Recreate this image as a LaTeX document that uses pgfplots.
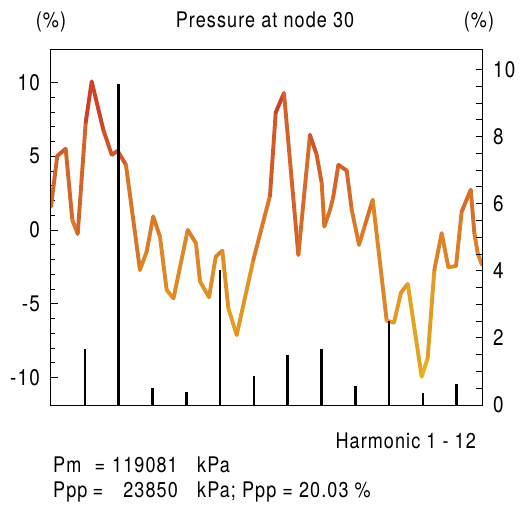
\documentclass[border=0pt]{standalone}
\usepackage{fontspec}
\setmainfont{TeX Gyre Heros}[FakeStretch=0.84,LetterSpace=5]
\usepackage{pgfplots}
\pgfplotsset{compat=1.18}

\pgfplotsset{
  colormap={heatline}{rgb255=(233,182,30) rgb255=(226,152,36) rgb255=(219,122,40) rgb255=(211,90,40) rgb255=(202,56,38)},
  common/.style={
    at={(51pt,99pt)}, anchor=south west,
    width=431pt, height=355pt, scale only axis,
    tick align=inside,
    axis line style={line width=1pt},
    tick style={black, line width=0.9pt},
    /pgf/number format/assume math mode=true,
    tick label style={font=\fontsize{22.5}{26}\selectfont},
  },
}

\begin{document}
\begin{tikzpicture}
\path (0pt,0pt) rectangle (521pt,504pt);

% pressure variation, left scale
\begin{axis}[common,
    xmin=0, xmax=360, ymin=-11.85, ymax=12.2,
    xtick=\empty,
    ytick={-10,-5,0,5,10}, minor y tick num=4,
    ytick pos=left,
    major tick length=7pt, minor tick length=4pt,
    yticklabel style={inner sep=0pt, xshift=-11pt},
    colormap name=heatline, point meta min=-10, point meta max=10,
]
\addplot[mesh, point meta=y, line width=3.9pt, line cap=round, line join=round] coordinates {
(0,1.59) (5.26,5.03) (12.28,5.51) (17.79,0.69) (22.30,-0.26) (29.0,7.3)
(34.0,10.07) (43.7,6.79) (50.7,5.10) (55.7,5.37) (62.6,4.42) (74.3,-2.70)
(79.9,-1.46) (85.4,0.92) (91.0,-0.44) (96.6,-4.05) (102.3,-4.63) (114.2,0.01)
(121.1,-0.89) (124.5,-3.49) (132.0,-4.55) (137.6,-1.80) (143.1,-1.39)
(148.1,-5.29) (155.1,-7.11) (169.0,-2.02) (182.9,2.32) (187.7,7.97)
(194.6,9.28) (206.6,-1.68) (216.3,6.45) (221.9,5.10) (226.1,3.18)
(228.3,0.24) (233.1,1.37) (235.8,2.27) (240.0,4.42) (247.0,4.03)
(251.2,1.37) (257.3,-1.0) (262.3,0.35) (268.7,2.05) (280.4,-6.14)
(286.5,-6.27) (292.3,-4.24) (298.0,-3.65) (309.6,-9.93) (314.6,-8.68)
(320.2,-2.70) (326.3,-0.21) (331.9,-2.52) (338.3,-2.43) (343.0,1.25)
(350.6,2.73) (353.6,-0.21) (356.4,-1.57) (360,-2.36)
};
\end{axis}

% harmonic amplitudes, right scale
\begin{axis}[common,
    xmin=0, xmax=12.75, ymin=0, ymax=10.58,
    axis x line=none, axis y line*=right,
    ytick={0,2,...,10}, minor y tick num=3,
    major tick length=6pt, minor tick length=6pt,
    yticklabel style={inner sep=0pt, xshift=11pt},
]
\addplot[ycomb, black, line width=2.6pt] coordinates {
(1,1.66) (2,9.57) (3,0.50) (4,0.40) (5,4.03) (6,0.87)
(7,1.49) (8,1.68) (9,0.57) (10,2.49) (11,0.37) (12,0.63)
};
\end{axis}

\begin{scope}[every node/.style={font=\fontsize{21.5}{25}\selectfont, inner sep=0pt}]
\node[anchor=base] at (51pt,476pt) {(\%)};
\node[anchor=base] at (479pt,476pt) {(\%)};
\node[anchor=base] at (265pt,476pt) {Pressure at node 30};
\node[anchor=base east] at (476pt,56pt) {Harmonic 1 - 12};
\node[anchor=base west] at (53pt,32pt) {Pm};
\node[anchor=base] at (100pt,32pt) {=};
\node[anchor=base east] at (178pt,32pt) {119081};
\node[anchor=base west] at (197pt,32pt) {kPa};
\node[anchor=base west] at (53pt,7pt) {Ppp};
\node[anchor=base] at (98pt,7pt) {=};
\node[anchor=base east] at (178pt,7pt) {23850};
\node[anchor=base west] at (197pt,7pt) {kPa; Ppp = 20.03 \%};
\end{scope}
\end{tikzpicture}
\end{document}
